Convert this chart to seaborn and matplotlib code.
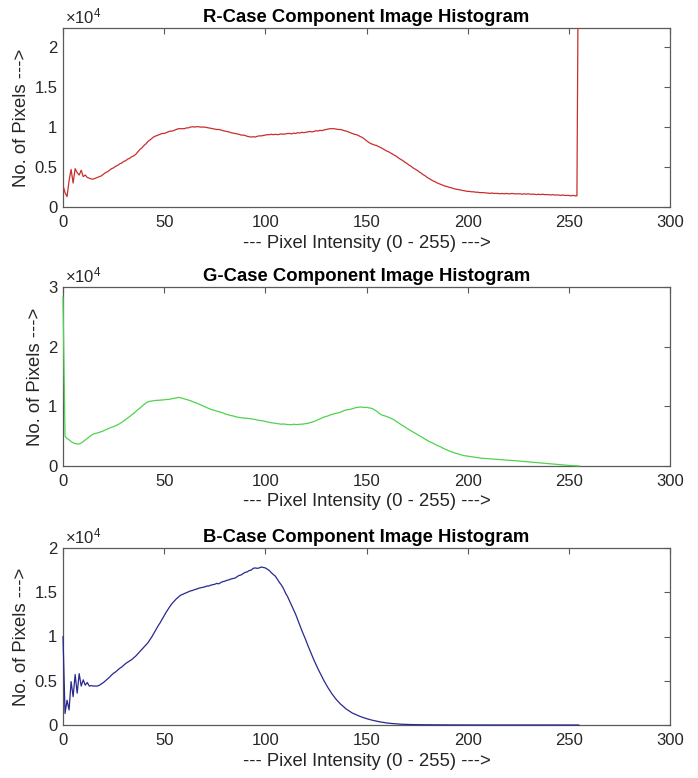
import matplotlib
matplotlib.use("Agg")
import matplotlib.pyplot as plt
from matplotlib.ticker import FuncFormatter, MultipleLocator
import numpy as np
import pandas as pd
import seaborn as sns

# Pixel counts per intensity level (0..255) for each colour component
intensity = list(range(256))

r_counts = [
    2700, 1800, 1300, 3300, 4700, 3000, 4800, 4300, 4000, 4600, 3800, 4000, 3700, 3600, 3500, 3500,
    3600, 3700, 3800, 3900, 4100, 4300, 4400, 4600, 4800, 4900, 5100, 5200, 5400, 5500, 5700, 5800,
    6000, 6100, 6300, 6400, 6600, 6900, 7200, 7400, 7700, 7900, 8200, 8400, 8600, 8800, 8900, 9000,
    9100, 9200, 9200, 9300, 9400, 9500, 9500, 9600, 9700, 9800, 9800, 9800, 9800, 9900, 9900, 10000,
    10050, 10000, 10050, 10050, 10000, 10000, 10000, 9950, 9900, 9850, 9800, 9750, 9700, 9700, 9650, 9550,
    9500, 9450, 9400, 9300, 9250, 9200, 9150, 9100, 9000, 9000, 8950, 8850, 8800, 8750, 8800, 8750,
    8850, 8900, 8900, 8950, 9000, 9050, 9050, 9100, 9050, 9100, 9050, 9100, 9150, 9100, 9150, 9200,
    9200, 9150, 9250, 9200, 9300, 9250, 9350, 9300, 9350, 9400, 9450, 9400, 9450, 9550, 9500, 9600,
    9550, 9650, 9700, 9750, 9800, 9800, 9800, 9750, 9700, 9700, 9650, 9550, 9500, 9400, 9300, 9200,
    9100, 9050, 8950, 8800, 8700, 8500, 8300, 8100, 7950, 7850, 7750, 7700, 7550, 7450, 7300, 7150,
    7000, 6900, 6750, 6600, 6450, 6300, 6100, 5950, 5800, 5600, 5450, 5250, 5100, 4900, 4750, 4600,
    4400, 4250, 4050, 3900, 3700, 3550, 3400, 3250, 3150, 3000, 2900, 2800, 2700, 2600, 2550, 2450,
    2400, 2300, 2250, 2200, 2150, 2100, 2050, 2000, 1950, 1950, 1900, 1900, 1850, 1850, 1800, 1800,
    1800, 1750, 1750, 1700, 1750, 1700, 1700, 1700, 1650, 1700, 1650, 1700, 1650, 1650, 1700, 1650,
    1650, 1650, 1650, 1600, 1650, 1600, 1650, 1600, 1600, 1600, 1550, 1600, 1550, 1600, 1550, 1550,
    1550, 1500, 1550, 1500, 1500, 1500, 1450, 1500, 1450, 1450, 1450, 1400, 1450, 1400, 1400, 45000,
]

g_counts = [
    28300, 5000, 4600, 4400, 4100, 3900, 3750, 3700, 3700, 3850, 4100, 4350, 4600, 4900, 5150, 5350,
    5450, 5550, 5650, 5750, 5900, 6050, 6200, 6350, 6500, 6600, 6750, 6900, 7100, 7300, 7550, 7800,
    8050, 8300, 8600, 8850, 9150, 9450, 9700, 10000, 10300, 10550, 10750, 10850, 10900, 10950, 11000, 11000,
    11050, 11050, 11100, 11150, 11150, 11200, 11300, 11350, 11400, 11500, 11450, 11350, 11250, 11150, 11050, 10950,
    10800, 10650, 10550, 10400, 10250, 10100, 9950, 9800, 9650, 9500, 9400, 9300, 9200, 9100, 9000, 8900,
    8750, 8650, 8550, 8450, 8400, 8300, 8200, 8150, 8100, 8050, 8000, 8000, 7950, 7900, 7850, 7800,
    7700, 7650, 7600, 7550, 7450, 7400, 7300, 7250, 7200, 7150, 7100, 7050, 7000, 7050, 7000, 6950,
    6950, 6900, 7000, 6950, 6950, 7000, 7000, 7050, 7100, 7150, 7250, 7350, 7450, 7600, 7750, 7900,
    8050, 8200, 8300, 8400, 8550, 8650, 8750, 8850, 8900, 9000, 9150, 9300, 9400, 9450, 9500, 9600,
    9700, 9800, 9850, 9900, 9850, 9800, 9850, 9750, 9700, 9600, 9400, 9200, 8900, 8650, 8500, 8400,
    8300, 8150, 8000, 7850, 7650, 7400, 7200, 6950, 6750, 6550, 6300, 6100, 5900, 5700, 5500, 5300,
    5100, 4900, 4700, 4500, 4300, 4100, 3950, 3800, 3600, 3450, 3300, 3150, 2950, 2800, 2650, 2500,
    2400, 2250, 2150, 2050, 1950, 1850, 1750, 1700, 1650, 1600, 1550, 1500, 1450, 1400, 1350, 1300,
    1280, 1250, 1230, 1200, 1180, 1150, 1120, 1100, 1070, 1050, 1020, 1000, 970, 950, 920, 900,
    870, 840, 810, 780, 750, 720, 690, 660, 630, 600, 570, 540, 510, 480, 450, 420,
    390, 360, 330, 300, 270, 240, 210, 180, 150, 120, 100, 80, 60, 40, 20, 10,
]

b_counts = [
    10000, 1300, 2800, 1700, 4900, 3200, 5700, 3600, 5800, 4400, 5100, 4500, 4800, 4400, 4450, 4400,
    4400, 4400, 4500, 4650, 4800, 5000, 5200, 5400, 5650, 5850, 6000, 6200, 6400, 6550, 6750, 6950,
    7100, 7250, 7400, 7600, 7800, 8050, 8300, 8550, 8800, 9050, 9300, 9650, 10000, 10400, 10800, 11200,
    11550, 11950, 12350, 12750, 13100, 13450, 13750, 14000, 14250, 14450, 14650, 14750, 14850, 14950, 15050, 15150,
    15200, 15300, 15350, 15450, 15500, 15550, 15600, 15700, 15700, 15800, 15850, 15900, 16000, 15950, 16100, 16200,
    16250, 16350, 16400, 16500, 16550, 16600, 16750, 16900, 16950, 17100, 17250, 17300, 17450, 17500, 17700, 17750,
    17700, 17750, 17850, 17800, 17750, 17600, 17450, 17200, 17000, 16800, 16450, 16100, 15800, 15400, 14900, 14500,
    14000, 13500, 13000, 12500, 11900, 11300, 10700, 10150, 9600, 9000, 8450, 7900, 7350, 6850, 6350, 5900,
    5450, 5000, 4600, 4200, 3850, 3500, 3200, 2900, 2650, 2400, 2200, 2000, 1800, 1650, 1500, 1350,
    1250, 1150, 1050, 950, 870, 790, 720, 650, 590, 530, 480, 430, 380, 340, 300, 260,
    230, 200, 180, 160, 140, 120, 105, 90, 80, 70, 60, 55, 50, 45, 40, 35,
    32, 30, 28, 26, 24, 22, 20, 18, 16, 15, 14, 13, 12, 11, 10, 9,
    9, 8, 8, 7, 7, 6, 6, 5, 5, 5, 4, 4, 4, 3, 3, 3,
    3, 3, 2, 2, 2, 2, 2, 2, 2, 1, 1, 1, 1, 1, 1, 1,
    1, 1, 1, 1, 1, 1, 1, 1, 1, 1, 1, 1, 1, 1, 1, 1,
    1, 1, 1, 1, 1, 1, 0, 0, 0, 0, 0, 0, 0, 0, 0, 0,
]

titles = [
    "R-Case Component Image Histogram",
    "G-Case Component Image Histogram",
    "B-Case Component Image Histogram",
]
x_label = "--- Pixel Intensity (0 - 255) --->"
y_label = "No. of Pixels --->"
x_ticks = [0, 50, 100, 150, 200, 250, 300]

sns.set_style("white")
plt.rcParams["font.family"] = ["Liberation Sans", "DejaVu Sans"]
plt.rcParams["mathtext.fontset"] = "custom"
plt.rcParams["mathtext.rm"] = "Liberation Sans"
plt.rcParams["mathtext.it"] = "Liberation Sans:italic"

AX_COLOR = "#5a5a5a"
TXT_COLOR = "#262626"

fig = plt.figure(figsize=(6.98, 7.78), dpi=100)
W, H = 698, 778
panels = [
    # (counts, colour, y max, y tick step, axes top px, axes bottom px)
    (r_counts, "#c92e2e", 22400, 5000, 28, 207),
    (g_counts, "#4fd24f", 30000, 10000, 287, 466),
    (b_counts, "#28288f", 20000, 5000, 548, 725),
]

for (counts, color, ymax, ystep, top, bottom), title in zip(panels, titles):
    left, right = 63, 670
    ax = fig.add_axes([left / W, (H - bottom) / H, (right - left) / W, (bottom - top) / H])
    df = pd.DataFrame({"intensity": intensity, "count": counts})
    # only clip when the curve overshoots the y range; otherwise let the
    # spike at intensity 0 draw fully over the left frame line
    overshoots = max(counts) > ymax
    sns.lineplot(data=df, x="intensity", y="count", ax=ax, color=color,
                 linewidth=0.9, clip_on=overshoots, zorder=4)
    ax.set_xlim(0, 300)
    ax.set_ylim(0, ymax)
    ax.set_xticks(x_ticks)
    ax.yaxis.set_major_locator(MultipleLocator(ystep))
    ax.yaxis.set_major_formatter(FuncFormatter(lambda v, p: f"{v / 1e4:g}"))
    ax.tick_params(direction="in", top=True, right=True, length=4, width=0.8,
                   color=AX_COLOR, labelcolor=TXT_COLOR, labelsize=12)
    ax.tick_params(axis="x", pad=6)
    ax.tick_params(axis="y", pad=4)
    for sp in ax.spines.values():
        sp.set_visible(True)
        sp.set_color(AX_COLOR)
        sp.set_linewidth(0.9)
        sp.set_zorder(2)
    ax.set_xlabel(x_label, fontsize=13.3, color=TXT_COLOR, labelpad=3)
    ax.set_ylabel(y_label, fontsize=13.3, color=TXT_COLOR, labelpad=3)
    ax.set_title(title, fontsize=13.3, fontweight="bold", color="black", pad=4)
    ax.text(0.003, 1.008, r"$\times10^{4}$", transform=ax.transAxes,
            fontsize=12, color=TXT_COLOR, ha="left", va="bottom")
    ax.grid(False)

fig.savefig("out.png", dpi=100, facecolor="white")
